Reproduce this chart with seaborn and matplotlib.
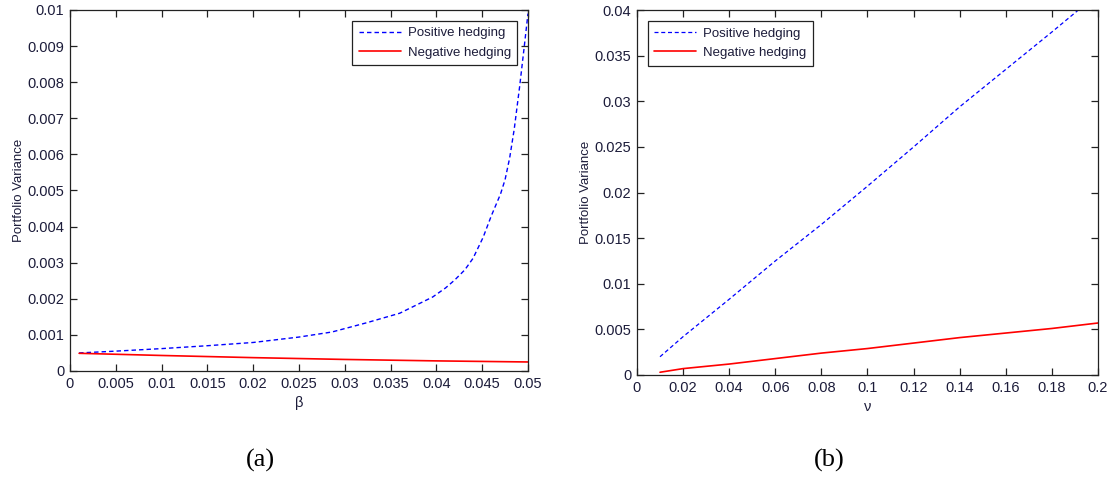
import numpy as np
import pandas as pd
import matplotlib
matplotlib.use("Agg")
import matplotlib.pyplot as plt
from matplotlib.ticker import FuncFormatter
import seaborn as sns

# Panel (a): portfolio variance against beta
beta = [0.001, 0.005, 0.01, 0.015, 0.02, 0.025, 0.0286, 0.0323, 0.036, 0.0396,
        0.041, 0.042, 0.0431, 0.044, 0.0451, 0.046, 0.047, 0.0475, 0.048,
        0.0485, 0.0491, 0.0496, 0.05]
pos_beta = [0.0005, 0.00055, 0.00062, 0.0007, 0.00079, 0.00094, 0.00108, 0.00133,
            0.0016, 0.00205, 0.0023, 0.00252, 0.0028, 0.00312, 0.0037, 0.0043,
            0.0049, 0.0053, 0.0059, 0.0067, 0.0079, 0.009, 0.0099]
beta_neg = [0.001, 0.01, 0.02, 0.03, 0.04, 0.05]
neg_beta = [0.00049, 0.00043, 0.00037, 0.00032, 0.00028, 0.00025]

# Panel (b): portfolio variance against nu
nu = [0.01, 0.02, 0.04, 0.06, 0.08, 0.1, 0.12, 0.14, 0.16, 0.18, 0.2]
pos_nu = [0.002, 0.0042, 0.0083, 0.0125, 0.0165, 0.0207, 0.025, 0.0294, 0.0335,
          0.0376, 0.0418]
neg_nu = [0.0003, 0.0007, 0.0012, 0.0018, 0.0024, 0.0029, 0.0035, 0.0041,
          0.0046, 0.0051, 0.0057]

labels = ["Positive hedging", "Negative hedging"]

sns.set_style("ticks")
plt.rcParams["font.family"] = ["Liberation Sans", "DejaVu Sans"]
TXT = "#1c1c3a"
plt.rcParams.update({
    "text.color": TXT,
    "axes.labelcolor": TXT,
    "xtick.color": "#222222",
    "ytick.color": "#222222",
    "xtick.labelcolor": TXT,
    "ytick.labelcolor": TXT,
    "axes.edgecolor": "#222222",
})

fig = plt.figure(figsize=(11.12, 4.82), dpi=100)
ax1 = fig.add_axes([0.0629, 0.2303, 0.4119, 0.749])
ax2 = fig.add_axes([0.5728, 0.222, 0.4146, 0.757])

df_a_pos = pd.DataFrame({"x": beta, "y": pos_beta})
df_a_neg = pd.DataFrame({"x": beta_neg, "y": neg_beta})
df_b = pd.DataFrame({"x": nu, "pos": pos_nu, "neg": neg_nu})

dash = (0, (3.2, 2.2))
sns.lineplot(data=df_a_pos, x="x", y="y", ax=ax1, color="#0000ff", lw=1.0,
             linestyle=dash, label=labels[0])
sns.lineplot(data=df_a_neg, x="x", y="y", ax=ax1, color="#ff0000", lw=1.2,
             label=labels[1])
sns.lineplot(data=df_b, x="x", y="pos", ax=ax2, color="#0000ff", lw=0.9,
             linestyle=dash, label=labels[0])
sns.lineplot(data=df_b, x="x", y="neg", ax=ax2, color="#ff0000", lw=1.2,
             label=labels[1])

fmt = FuncFormatter(lambda v, p: f"{v:.3f}".rstrip("0").rstrip(".") if v != 0 else "0")

ax1.set_xlim(0, 0.05)
ax1.set_ylim(0, 0.01)
ax1.set_xticks(np.arange(0, 0.0501, 0.005))
ax1.set_yticks(np.arange(0, 0.01001, 0.001))
ax1.set_xlabel("β", fontsize=10.5, labelpad=4)

ax2.set_xlim(0, 0.2)
ax2.set_ylim(0, 0.04)
ax2.set_xticks(np.arange(0, 0.2001, 0.02))
ax2.set_yticks(np.arange(0, 0.04001, 0.005))
ax2.set_xlabel("ν", fontsize=10.5, labelpad=4)

for ax, loc in [(ax1, "upper right"), (ax2, "upper left")]:
    ax.xaxis.set_major_formatter(fmt)
    ax.yaxis.set_major_formatter(fmt)
    ax.set_ylabel("Portfolio Variance", fontsize=9.5, labelpad=2)
    ax.tick_params(direction="in", length=5, width=0.9, top=True, right=True,
                   labelsize=10.5, pad=4)
    for s in ax.spines.values():
        s.set_visible(True)
        s.set_linewidth(0.9)
    leg = ax.legend(loc=loc, fontsize=9.5, frameon=True, fancybox=False,
                    handlelength=3.2, borderpad=0.5, labelspacing=0.55,
                    handletextpad=0.5, borderaxespad=0.8)
    leg.get_frame().set_edgecolor("#222222")
    leg.get_frame().set_linewidth(0.9)
    leg.get_frame().set_alpha(1)

fig.text(0.2338, 0.045, "(a)", fontsize=19, family="Liberation Serif",
         ha="center", va="center", color="black")
fig.text(0.746, 0.045, "(b)", fontsize=19, family="Liberation Serif",
         ha="center", va="center", color="black")

fig.savefig("out.png", dpi=100)
